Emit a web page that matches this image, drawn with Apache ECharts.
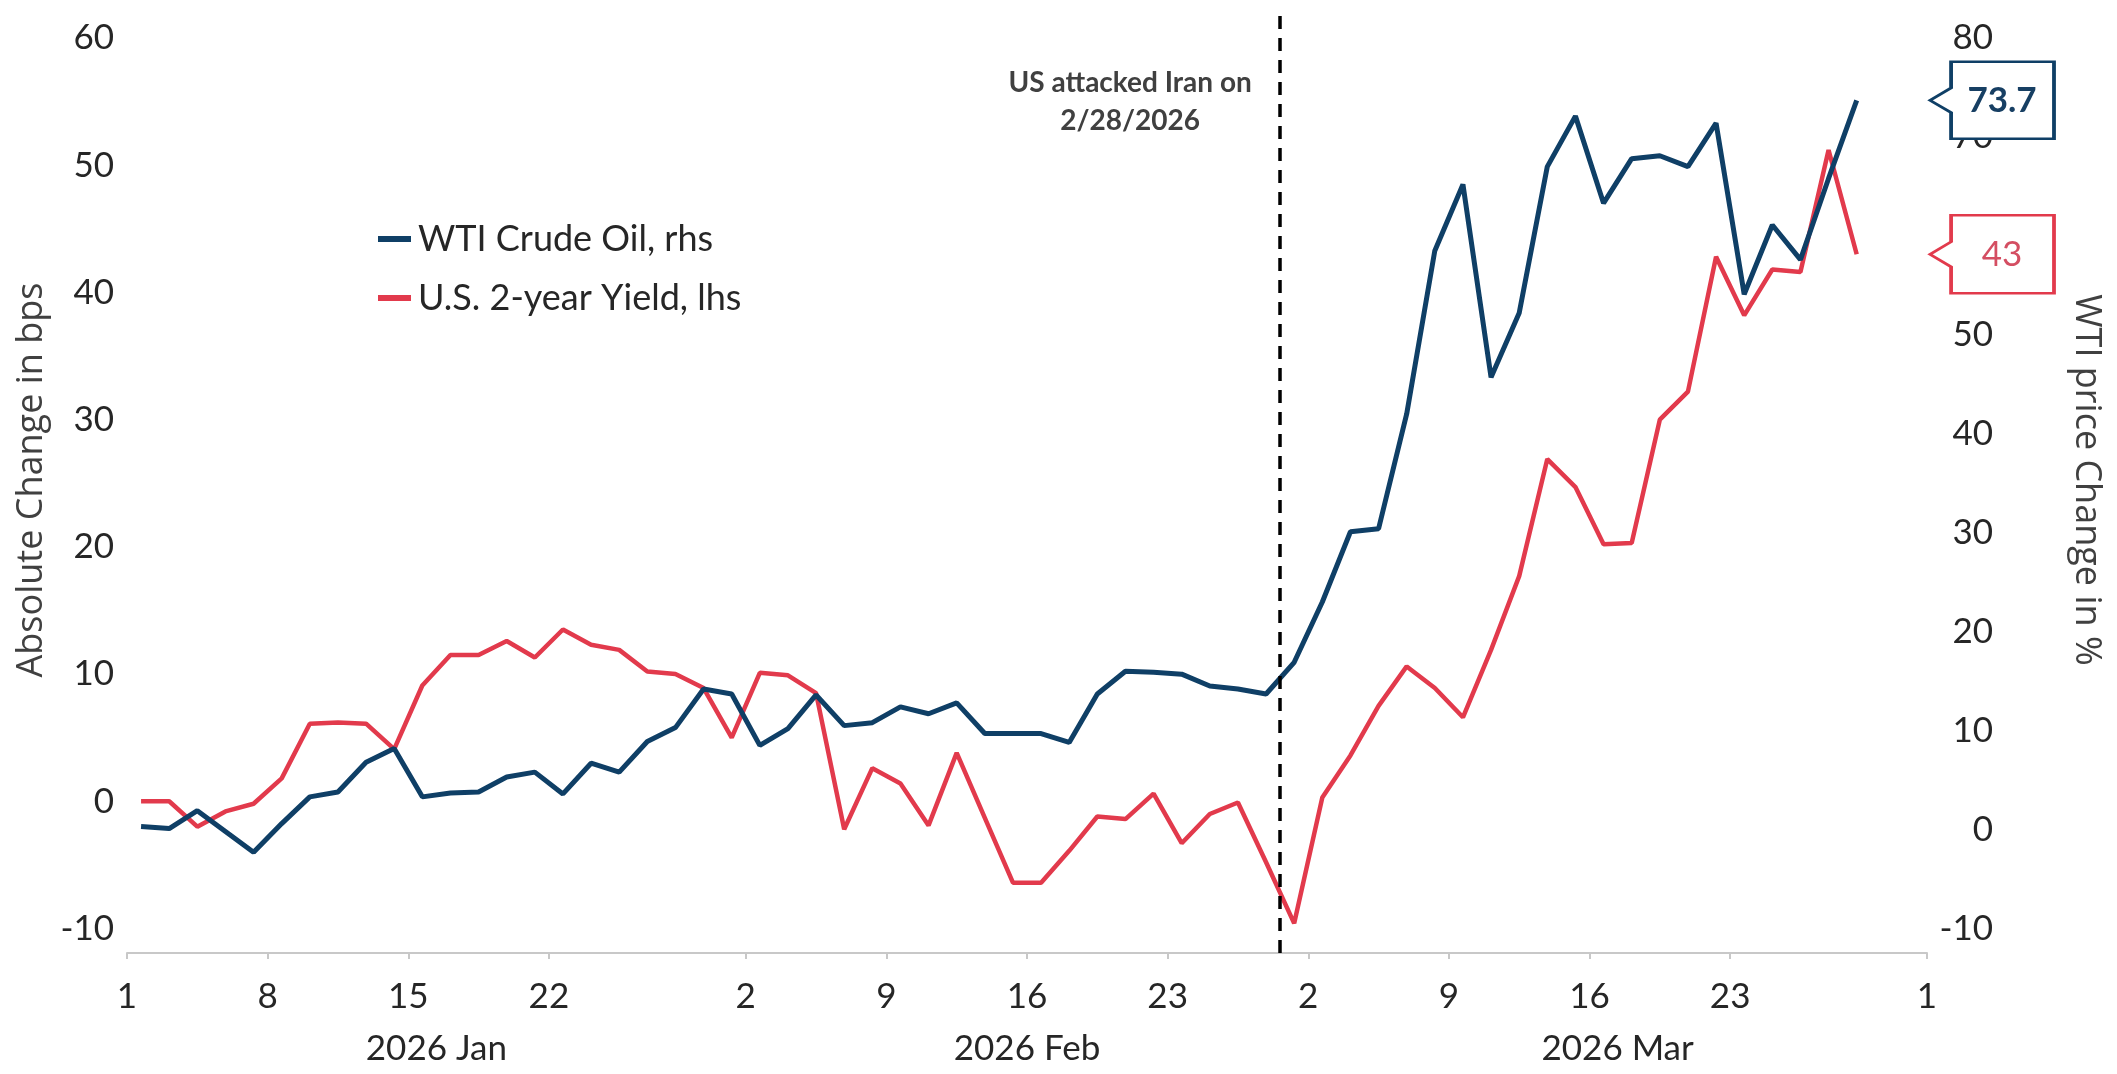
<!DOCTYPE html>
<html>
<head>
<meta charset="utf-8">
<title>WTI crude oil and U.S. 2-year yield</title>
<script src="https://cdn.jsdelivr.net/npm/echarts@6/dist/echarts.min.js"></script>
<style>
  html, body { margin: 0; padding: 0; background: #ffffff; }
  #chart { width: 2117px; height: 1074px; }
</style>
</head>
<body>
<div id="chart"></div>
<script>
// US business days covered by the two series
const dates = [
  '2026-01-01','2026-01-02','2026-01-05','2026-01-06','2026-01-07','2026-01-08','2026-01-09',
  '2026-01-12','2026-01-13','2026-01-14','2026-01-15','2026-01-16','2026-01-19','2026-01-20',
  '2026-01-21','2026-01-22','2026-01-23','2026-01-26','2026-01-27','2026-01-28','2026-01-29','2026-01-30',
  '2026-02-02','2026-02-03','2026-02-04','2026-02-05','2026-02-06','2026-02-09','2026-02-10',
  '2026-02-11','2026-02-12','2026-02-13','2026-02-16','2026-02-17','2026-02-18','2026-02-19',
  '2026-02-20','2026-02-23','2026-02-24','2026-02-25','2026-02-26','2026-02-27',
  '2026-03-02','2026-03-03','2026-03-04','2026-03-05','2026-03-06','2026-03-09','2026-03-10',
  '2026-03-11','2026-03-12','2026-03-13','2026-03-16','2026-03-17','2026-03-18','2026-03-19',
  '2026-03-20','2026-03-23','2026-03-24','2026-03-25','2026-03-26','2026-03-27'
];

// WTI crude oil, % change since start of year (right axis)
const wtiChange = [
  0.3, 0.1, 1.9, -0.2, -2.3, 0.6, 3.3, 3.8, 6.8, 8.2, 3.3, 3.7, 3.8, 5.3, 5.8, 3.6, 6.7, 5.8, 8.9, 10.3, 14.2, 13.7,
  8.5, 10.2, 13.6, 10.5, 10.8, 12.4, 11.7, 12.8, 9.7, 9.7, 9.7, 8.8, 13.7, 16.0, 15.9, 15.7, 14.5, 14.2, 13.7, 16.9,
  23.0, 30.1, 30.4, 42.0, 58.5, 65.2, 45.7, 52.2, 67.0, 72.1, 63.3, 67.8, 68.1, 67.0, 71.4, 54.1, 61.1, 57.6, 65.8, 73.7
];

// U.S. 2-year Treasury yield, change in bps since start of year (left axis)
const yieldChange = [
  0, 0, -2.0, -0.8, -0.2, 1.8, 6.1, 6.2, 6.1, 4.1, 9.1, 11.5, 11.5, 12.6, 11.3, 13.5, 12.3, 11.9, 10.2, 10.0, 8.9, 5.0,
  10.1, 9.9, 8.5, -2.2, 2.6, 1.4, -1.9, 3.8, -1.3, -6.4, -6.4, -3.9, -1.2, -1.4, 0.6, -3.3, -1.0, -0.1, -4.8, -9.6,
  0.3, 3.6, 7.5, 10.6, 8.9, 6.6, 11.9, 17.7, 26.9, 24.7, 20.2, 20.3, 30.0, 32.2, 42.8, 38.2, 41.8, 41.6, 51.2, 43
];

// Date axis: tick dates and their day labels
const tickDates = ['2026-01-01','2026-01-08','2026-01-15','2026-01-22','2026-02-02','2026-02-09',
  '2026-02-16','2026-02-23','2026-03-02','2026-03-09','2026-03-16','2026-03-23','2026-04-01'];
const tickLabels = ['1','8','15','22','2','9','16','23','2','9','16','23','1'];

// Month bands under the day labels
const monthStarts = ['2026-01-01','2026-02-02','2026-03-02','2026-04-01'];
const monthLabels = ['2026 Jan','2026 Feb','2026 Mar'];

// Value axis labels
const leftTicks = [-10, 0, 10, 20, 30, 40, 50, 60];
const rightTicks = [-10, 0, 10, 20, 30, 40, 50, 60, 70, 80];

// Event marker
const eventDate = '2026-02-27';
const eventText = 'US attacked Iran on\n2/28/2026';

const BLUE = '#0f3f66';
const RED = '#e23a4c';
const TEXT = '#262626';
const FONT = 'Lato, "Open Sans", sans-serif';
const TITLE_FONT = '"Open Sans", sans-serif';

// Position on the business-day axis: number of weekdays since 1 Jan 2026
function bdIndex(iso) {
  const start = Date.UTC(2026, 0, 1);
  const p = iso.split('-').map(Number);
  const end = Date.UTC(p[0], p[1] - 1, p[2]);
  let n = 0;
  for (let t = start; t < end; t += 86400000) {
    const wd = new Date(t).getUTCDay();
    if (wd !== 0 && wd !== 6) n++;
  }
  return n;
}

const tickPos = tickDates.map(bdIndex);
const monthBounds = monthStarts.map(bdIndex);
const monthPos = monthLabels.map((_, i) => (monthBounds[i] + monthBounds[i + 1]) / 2);
const xMax = tickPos[tickPos.length - 1];

// each day sits in the middle of its slot
const wtiData = dates.map((d, i) => [bdIndex(d) + 0.5, wtiChange[i]]);
const yieldData = dates.map((d, i) => [bdIndex(d) + 0.5, yieldChange[i]]);

const wtiLast = wtiChange[wtiChange.length - 1];
const yieldLast = yieldChange[yieldChange.length - 1];

// Callout box with a small pointer on its left side
const CALLOUT = 'path://M0,50L17,34L17,0L100,0L100,100L17,100L17,66Z';

const chart = echarts.init(document.getElementById('chart'), null, { renderer: 'canvas' });

chart.setOption({
  animation: false,
  backgroundColor: '#ffffff',
  textStyle: { fontFamily: FONT },
  grid: {
    left: 127, right: 190, top: 7, bottom: 121,
    containLabel: false, outerBoundsMode: 'none'
  },
  legend: {
    data: ['WTI Crude Oil, rhs', 'U.S. 2-year Yield, lhs'],
    orient: 'vertical',
    left: 373, top: 216,
    itemWidth: 33, itemHeight: 6, itemGap: 23,
    icon: 'rect',
    textStyle: { fontFamily: FONT, fontSize: 36, color: TEXT, padding: [0, 0, 0, 2] },
    selectedMode: false
  },
  xAxis: [
    {
      type: 'value', min: 0, max: xMax,
      axisLine: { show: true, onZero: false, lineStyle: { color: '#c8c8c8', width: 2 } },
      axisTick: { show: true, customValues: tickPos, length: 6, lineStyle: { color: '#c8c8c8', width: 2 } },
      axisLabel: {
        customValues: tickPos,
        formatter: v => tickLabels[tickPos.indexOf(v)] || '',
        fontFamily: FONT, fontSize: 35, color: TEXT, margin: 26
      },
      splitLine: { show: false }
    },
    {
      type: 'value', min: 0, max: xMax, position: 'bottom',
      axisLine: { show: false },
      axisTick: { show: false },
      axisLabel: {
        customValues: monthPos,
        formatter: v => monthLabels[monthPos.indexOf(v)] || '',
        fontFamily: FONT, fontSize: 35, color: TEXT, margin: 78
      },
      splitLine: { show: false }
    }
  ],
  yAxis: [
    {
      type: 'value', position: 'left', min: -11.93, max: 62.44,
      name: 'Absolute Change in bps', nameLocation: 'middle', nameRotate: 90, nameGap: 74,
      nameTextStyle: { fontFamily: TITLE_FONT, fontSize: 36, color: '#404040' },
      axisLine: { show: false }, axisTick: { show: false }, splitLine: { show: false },
      axisLabel: { customValues: leftTicks, fontFamily: FONT, fontSize: 35, color: TEXT, margin: 13 }
    },
    {
      type: 'value', position: 'right', min: -12.48, max: 83.13,
      name: 'WTI price Change in %', nameLocation: 'middle', nameRotate: -90, nameGap: 141,
      nameTextStyle: { fontFamily: TITLE_FONT, fontSize: 36, color: '#404040' },
      axisLine: { show: false }, axisTick: { show: false }, splitLine: { show: false },
      axisLabel: { customValues: rightTicks, fontFamily: FONT, fontSize: 35, color: TEXT, margin: 66, align: 'right' }
    }
  ],
  series: [
    {
      name: 'U.S. 2-year Yield, lhs',
      type: 'line', xAxisIndex: 0, yAxisIndex: 0,
      data: yieldData,
      symbol: 'none', showSymbol: false,
      lineStyle: { color: RED, width: 4.5 },
      itemStyle: { color: RED },
      z: 2,
      markLine: {
        silent: true, symbol: ['none', 'none'],
        lineStyle: { color: '#000000', type: [13, 9], width: 3.5 },
        label: { show: false },
        data: [{ xAxis: bdIndex(eventDate) }],
        z: 5
      },
      markPoint: {
        silent: true,
        data: [
          {
            coord: [xMax, yieldLast], value: yieldLast,
            symbol: CALLOUT, symbolSize: [124, 78], symbolOffset: [65, 0], symbolKeepAspect: false,
            itemStyle: { color: '#ffffff', borderColor: RED, borderWidth: 3 },
            label: {
              show: true, position: 'inside', offset: [10, 0],
              formatter: p => String(p.value),
              fontFamily: FONT, fontSize: 35, color: '#d44e62'
            }
          },
          {
            coord: [bdIndex(eventDate), 55],
            symbol: 'circle', symbolSize: 1,
            itemStyle: { color: 'rgba(0,0,0,0)' },
            label: {
              show: true, position: 'inside', offset: [-150, 0],
              formatter: eventText,
              fontFamily: FONT, fontWeight: 'bold', fontSize: 28, lineHeight: 38,
              color: '#404040', align: 'center'
            }
          }
        ]
      }
    },
    {
      name: 'WTI Crude Oil, rhs',
      type: 'line', xAxisIndex: 0, yAxisIndex: 1,
      data: wtiData,
      symbol: 'none', showSymbol: false,
      lineStyle: { color: BLUE, width: 5 },
      itemStyle: { color: BLUE },
      z: 3,
      markPoint: {
        silent: true,
        data: [
          {
            coord: [xMax, wtiLast], value: wtiLast,
            symbol: CALLOUT, symbolSize: [124, 77], symbolOffset: [65, 0], symbolKeepAspect: false,
            itemStyle: { color: '#ffffff', borderColor: BLUE, borderWidth: 3 },
            label: {
              show: true, position: 'inside', offset: [10, 0],
              formatter: p => String(p.value),
              fontFamily: FONT, fontWeight: 'bold', fontSize: 35, color: '#173f63'
            }
          }
        ]
      }
    }
  ]
});
</script>
</body>
</html>
